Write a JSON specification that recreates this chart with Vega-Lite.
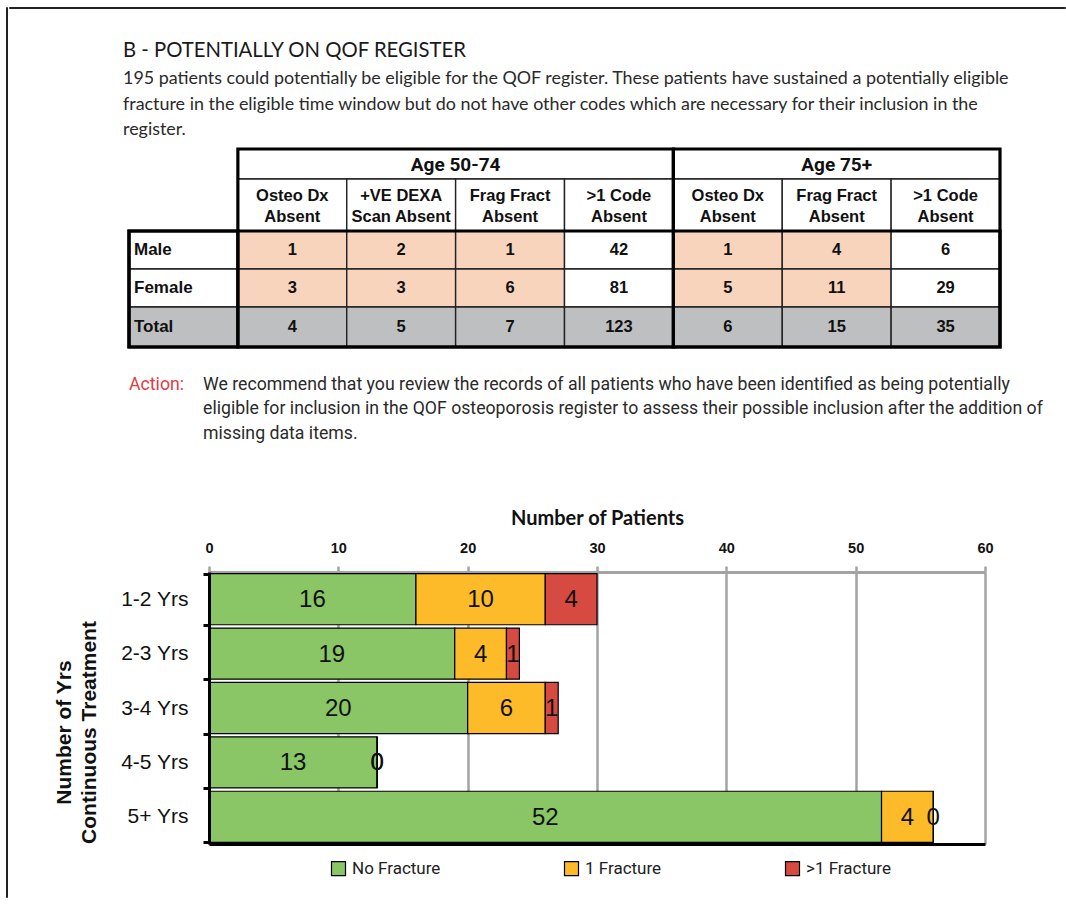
{
 "$schema": "https://vega.github.io/schema/vega-lite/v6.json",
 "background": "white",
 "padding": {"left": 5, "top": 6, "right": 0, "bottom": 0},
 "config": {"view": {"stroke": null}, "font": "Liberation Sans"},
 "datasets": {
  "header": [
   {"line": 0, "kind": "heading", "text": "B - POTENTIALLY ON QOF REGISTER"},
   {"line": 1, "kind": "body", "text": "195 patients could potentially be eligible for the QOF register.  These patients have sustained a potentially eligible"},
   {"line": 2, "kind": "body", "text": "fracture in the eligible time window but do not have other codes which are necessary for their inclusion in the"},
   {"line": 3, "kind": "body", "text": "register."}
  ],
  "table": [
   {"c0": 1, "c1": 5, "r0": 0, "r1": 1, "cx": 3, "cy": 0.5, "level": "age", "kind": "head", "text": "Age 50-74"},
   {"c0": 5, "c1": 8, "r0": 0, "r1": 1, "cx": 6.5, "cy": 0.5, "level": "age", "kind": "head", "text": "Age 75+"},
   {"c0": 1, "c1": 2, "r0": 1, "r1": 2, "cx": 1.5, "cy": 1.5, "level": "sub", "kind": "head", "text": "Osteo Dx\nAbsent"},
   {"c0": 2, "c1": 3, "r0": 1, "r1": 2, "cx": 2.5, "cy": 1.5, "level": "sub", "kind": "head", "text": "+VE DEXA\nScan Absent"},
   {"c0": 3, "c1": 4, "r0": 1, "r1": 2, "cx": 3.5, "cy": 1.5, "level": "sub", "kind": "head", "text": "Frag Fract\nAbsent"},
   {"c0": 4, "c1": 5, "r0": 1, "r1": 2, "cx": 4.5, "cy": 1.5, "level": "sub", "kind": "head", "text": ">1 Code\nAbsent"},
   {"c0": 5, "c1": 6, "r0": 1, "r1": 2, "cx": 5.5, "cy": 1.5, "level": "sub", "kind": "head", "text": "Osteo Dx\nAbsent"},
   {"c0": 6, "c1": 7, "r0": 1, "r1": 2, "cx": 6.5, "cy": 1.5, "level": "sub", "kind": "head", "text": "Frag Fract\nAbsent"},
   {"c0": 7, "c1": 8, "r0": 1, "r1": 2, "cx": 7.5, "cy": 1.5, "level": "sub", "kind": "head", "text": ">1 Code\nAbsent"},
   {"c0": 0, "c1": 1, "r0": 2, "r1": 3, "cx": 0.5, "cy": 2.5, "level": "row", "kind": "plain", "text": "Male"},
   {"c0": 0, "c1": 1, "r0": 3, "r1": 4, "cx": 0.5, "cy": 3.5, "level": "row", "kind": "plain", "text": "Female"},
   {"c0": 0, "c1": 1, "r0": 4, "r1": 5, "cx": 0.5, "cy": 4.5, "level": "row", "kind": "total", "text": "Total"},
   {"c0": 1, "c1": 2, "r0": 2, "r1": 3, "cx": 1.5, "cy": 2.5, "level": "val", "kind": "flag", "text": "1"},
   {"c0": 2, "c1": 3, "r0": 2, "r1": 3, "cx": 2.5, "cy": 2.5, "level": "val", "kind": "flag", "text": "2"},
   {"c0": 3, "c1": 4, "r0": 2, "r1": 3, "cx": 3.5, "cy": 2.5, "level": "val", "kind": "flag", "text": "1"},
   {"c0": 4, "c1": 5, "r0": 2, "r1": 3, "cx": 4.5, "cy": 2.5, "level": "val", "kind": "plain", "text": "42"},
   {"c0": 5, "c1": 6, "r0": 2, "r1": 3, "cx": 5.5, "cy": 2.5, "level": "val", "kind": "flag", "text": "1"},
   {"c0": 6, "c1": 7, "r0": 2, "r1": 3, "cx": 6.5, "cy": 2.5, "level": "val", "kind": "flag", "text": "4"},
   {"c0": 7, "c1": 8, "r0": 2, "r1": 3, "cx": 7.5, "cy": 2.5, "level": "val", "kind": "plain", "text": "6"},
   {"c0": 1, "c1": 2, "r0": 3, "r1": 4, "cx": 1.5, "cy": 3.5, "level": "val", "kind": "flag", "text": "3"},
   {"c0": 2, "c1": 3, "r0": 3, "r1": 4, "cx": 2.5, "cy": 3.5, "level": "val", "kind": "flag", "text": "3"},
   {"c0": 3, "c1": 4, "r0": 3, "r1": 4, "cx": 3.5, "cy": 3.5, "level": "val", "kind": "flag", "text": "6"},
   {"c0": 4, "c1": 5, "r0": 3, "r1": 4, "cx": 4.5, "cy": 3.5, "level": "val", "kind": "plain", "text": "81"},
   {"c0": 5, "c1": 6, "r0": 3, "r1": 4, "cx": 5.5, "cy": 3.5, "level": "val", "kind": "flag", "text": "5"},
   {"c0": 6, "c1": 7, "r0": 3, "r1": 4, "cx": 6.5, "cy": 3.5, "level": "val", "kind": "flag", "text": "11"},
   {"c0": 7, "c1": 8, "r0": 3, "r1": 4, "cx": 7.5, "cy": 3.5, "level": "val", "kind": "plain", "text": "29"},
   {"c0": 1, "c1": 2, "r0": 4, "r1": 5, "cx": 1.5, "cy": 4.5, "level": "val", "kind": "total", "text": "4"},
   {"c0": 2, "c1": 3, "r0": 4, "r1": 5, "cx": 2.5, "cy": 4.5, "level": "val", "kind": "total", "text": "5"},
   {"c0": 3, "c1": 4, "r0": 4, "r1": 5, "cx": 3.5, "cy": 4.5, "level": "val", "kind": "total", "text": "7"},
   {"c0": 4, "c1": 5, "r0": 4, "r1": 5, "cx": 4.5, "cy": 4.5, "level": "val", "kind": "total", "text": "123"},
   {"c0": 5, "c1": 6, "r0": 4, "r1": 5, "cx": 5.5, "cy": 4.5, "level": "val", "kind": "total", "text": "6"},
   {"c0": 6, "c1": 7, "r0": 4, "r1": 5, "cx": 6.5, "cy": 4.5, "level": "val", "kind": "total", "text": "15"},
   {"c0": 7, "c1": 8, "r0": 4, "r1": 5, "cx": 7.5, "cy": 4.5, "level": "val", "kind": "total", "text": "35"}
  ],
  "blocks": [
   {"c0": 1, "c1": 5, "r0": 0, "r1": 5},
   {"c0": 5, "c1": 8, "r0": 0, "r1": 5},
   {"c0": 0, "c1": 1, "r0": 2, "r1": 5},
   {"c0": 0, "c1": 8, "r0": 2, "r1": 5}
  ],
  "actionLabel": [{"line": 0, "text": "Action:"}],
  "action": [
   {"line": 0, "text": "We recommend that you review the records of all patients who have been identified as being potentially"},
   {"line": 1, "text": "eligible for inclusion in the QOF osteoporosis register to assess their possible inclusion after the addition of"},
   {"line": 2, "text": "missing data items."}
  ],
  "bars": [
   {"period": "1-2 Yrs", "fracture": "No Fracture", "rank": 1, "count": 16},
   {"period": "1-2 Yrs", "fracture": "1 Fracture", "rank": 2, "count": 10},
   {"period": "1-2 Yrs", "fracture": ">1 Fracture", "rank": 3, "count": 4},
   {"period": "2-3 Yrs", "fracture": "No Fracture", "rank": 1, "count": 19},
   {"period": "2-3 Yrs", "fracture": "1 Fracture", "rank": 2, "count": 4},
   {"period": "2-3 Yrs", "fracture": ">1 Fracture", "rank": 3, "count": 1},
   {"period": "3-4 Yrs", "fracture": "No Fracture", "rank": 1, "count": 20},
   {"period": "3-4 Yrs", "fracture": "1 Fracture", "rank": 2, "count": 6},
   {"period": "3-4 Yrs", "fracture": ">1 Fracture", "rank": 3, "count": 1},
   {"period": "4-5 Yrs", "fracture": "No Fracture", "rank": 1, "count": 13},
   {"period": "4-5 Yrs", "fracture": "1 Fracture", "rank": 2, "count": 0},
   {"period": "4-5 Yrs", "fracture": ">1 Fracture", "rank": 3, "count": 0},
   {"period": "5+ Yrs", "fracture": "No Fracture", "rank": 1, "count": 52},
   {"period": "5+ Yrs", "fracture": "1 Fracture", "rank": 2, "count": 4},
   {"period": "5+ Yrs", "fracture": ">1 Fracture", "rank": 3, "count": 0}
  ]
 },
 "spacing": 0,
 "hconcat": [
  {"width": 1, "height": 890, "view": {"stroke": "#222", "strokeWidth": 1}, "data": {"values": []}, "mark": "point"},
  {"spacing": 0, "vconcat": [
   {"width": 1056, "height": 1, "view": {"stroke": "#222", "strokeWidth": 1}, "data": {"values": []}, "mark": "point"},
   {"bounds": "flush", "spacing": 0, "hconcat": [
    {"width": 114, "height": 1, "data": {"values": []}, "mark": "point"},
    {"width": 940, "height": 138, "data": {"name": "header"},
     "encoding": {
      "x": {"datum": 0, "type": "quantitative", "scale": {"domain": [0, 1]}, "axis": null},
      "y": {"field": "line", "type": "quantitative", "scale": {"domain": [0, 3], "range": [49, 125], "zero": false, "nice": false}, "axis": null},
      "text": {"field": "text"}
     },
     "layer": [
      {"transform": [{"filter": "datum.kind == 'heading'"}], "mark": {"type": "text", "align": "left", "baseline": "alphabetic", "font": "Lato", "fontSize": 20.3, "color": "#1a1a1a", "dy": -1}},
      {"transform": [{"filter": "datum.kind == 'body'"}], "mark": {"type": "text", "align": "left", "baseline": "alphabetic", "font": "Lato", "fontSize": 17.9, "color": "#2a2a2a", "dy": 1}}
     ]}
   ]},
   {"bounds": "flush", "spacing": 0, "hconcat": [
    {"width": 120, "height": 1, "data": {"values": []}, "mark": "point"},
    {"width": 871, "height": 198,
     "layer": [
      {"data": {"name": "table"},
       "mark": {"type": "rect", "stroke": "#222", "strokeWidth": 1.4},
       "encoding": {
        "x": {"field": "c0", "type": "quantitative", "scale": {"domain": [0, 8], "nice": false, "zero": false}, "axis": null},
        "x2": {"field": "c1"},
        "y": {"field": "r0", "type": "quantitative", "scale": {"domain": [0, 1, 2, 3, 4, 5], "range": [0, 30, 82, 120, 158, 198], "nice": false, "zero": false}, "axis": null},
        "y2": {"field": "r1"},
        "fill": {"field": "kind", "type": "nominal", "scale": {"domain": ["head", "flag", "plain", "total"], "range": ["#ffffff", "#F8D4BD", "#ffffff", "#BEBFC1"]}, "legend": null}
       }},
      {"data": {"name": "table"},
       "transform": [{"filter": "datum.level == 'age'"}],
       "mark": {"type": "text", "font": "Roboto", "fontWeight": "bold", "fontSize": 19, "baseline": "middle", "align": "center", "color": "#111", "dy": 1},
       "encoding": {"x": {"field": "cx", "type": "quantitative"}, "y": {"field": "cy", "type": "quantitative"}, "text": {"field": "text"}}},
      {"data": {"name": "table"},
       "transform": [{"filter": "datum.level == 'sub'"}],
       "mark": {"type": "text", "font": "Liberation Sans", "fontWeight": "bold", "fontSize": 16.5, "baseline": "middle", "align": "center", "color": "#111", "lineBreak": "\n", "lineHeight": 20.5, "dy": -9},
       "encoding": {"x": {"field": "cx", "type": "quantitative"}, "y": {"field": "cy", "type": "quantitative"}, "text": {"field": "text"}}},
      {"data": {"name": "table"},
       "transform": [{"filter": "datum.level == 'row'"}],
       "mark": {"type": "text", "font": "Liberation Sans", "fontWeight": "bold", "fontSize": 17, "baseline": "middle", "align": "left", "dx": 5, "color": "#111"},
       "encoding": {"x": {"field": "c0", "type": "quantitative"}, "y": {"field": "cy", "type": "quantitative"}, "text": {"field": "text"}}},
      {"data": {"name": "table"},
       "transform": [{"filter": "datum.level == 'val'"}],
       "mark": {"type": "text", "font": "Liberation Sans", "fontWeight": "bold", "fontSize": 16.5, "baseline": "middle", "align": "center", "color": "#111"},
       "encoding": {"x": {"field": "cx", "type": "quantitative"}, "y": {"field": "cy", "type": "quantitative"}, "text": {"field": "text"}}},
      {"data": {"name": "blocks"},
       "mark": {"type": "rect", "filled": false, "stroke": "#000", "strokeWidth": 3.2},
       "encoding": {"x": {"field": "c0", "type": "quantitative"}, "x2": {"field": "c1"}, "y": {"field": "r0", "type": "quantitative"}, "y2": {"field": "r1"}}}
     ]}
   ]},
   {"bounds": "flush", "spacing": 0, "hconcat": [
    {"width": 120, "height": 1, "data": {"values": []}, "mark": "point"},
    {"width": 74, "height": 159, "data": {"name": "actionLabel"},
     "mark": {"type": "text", "align": "left", "baseline": "alphabetic", "font": "Roboto", "fontSize": 17.7, "color": "#E23B3F"},
     "encoding": {
      "x": {"datum": 0, "type": "quantitative", "scale": {"domain": [0, 1]}, "axis": null},
      "y": {"field": "line", "type": "quantitative", "scale": {"domain": [0, 2], "range": [40.5, 90], "zero": false, "nice": false}, "axis": null},
      "text": {"field": "text"}
     }},
    {"width": 855, "height": 159, "data": {"name": "action"},
     "mark": {"type": "text", "align": "left", "baseline": "alphabetic", "font": "Roboto", "fontSize": 17.7, "color": "#2a2a2a"},
     "encoding": {
      "x": {"datum": 0, "type": "quantitative", "scale": {"domain": [0, 1]}, "axis": null},
      "y": {"field": "line", "type": "quantitative", "scale": {"domain": [0, 2], "range": [40.5, 90], "zero": false, "nice": false}, "axis": null},
      "text": {"field": "text"}
     }}
   ]},
   {"bounds": "flush", "spacing": 0, "hconcat": [
    {"width": 200, "height": 1, "data": {"values": []}, "mark": "point"},
    {"width": 776, "height": 272, "data": {"name": "bars"},
     "encoding": {
      "y": {"field": "period", "type": "nominal", "sort": ["1-2 Yrs", "2-3 Yrs", "3-4 Yrs", "4-5 Yrs", "5+ Yrs"],
       "scale": {"paddingInner": 0.06, "paddingOuter": 0.03},
       "title": ["Number of Yrs", "Continuous Treatment"],
       "axis": {"domainColor": "#000", "domainWidth": 3, "tickColor": "#000", "tickWidth": 3, "tickSize": 6, "tickBand": "extent",
        "labelFont": "Liberation Sans", "labelFontSize": 21, "labelColor": "#111", "labelPadding": 15,
        "titleFont": "Liberation Sans", "titleFontSize": 21, "titleFontWeight": "bold", "titleColor": "#111", "titlePadding": 21, "titleLineHeight": 25, "titleY": 160, "zindex": 1}}
     },
     "layer": [
      {"mark": {"type": "bar", "stroke": "#000", "strokeWidth": 1.2},
       "encoding": {
        "x": {"field": "count", "type": "quantitative", "stack": "zero", "scale": {"domain": [0, 60], "nice": false},
         "title": "Number of Patients",
         "axis": {"orient": "top", "values": [0, 10, 20, 30, 40, 50, 60], "labelFlush": false,
          "titleFont": "Lato", "titleFontSize": 20, "titleFontWeight": "bold", "titleColor": "#111", "titlePadding": 12,
          "labelFont": "Liberation Sans", "labelFontSize": 14.5, "labelFontWeight": "bold", "labelColor": "#111", "labelPadding": 11,
          "domainColor": "#A3A3A5", "domainWidth": 3, "tickColor": "#A3A3A5", "tickWidth": 2.5, "tickSize": 6,
          "grid": true, "gridColor": "#A3A3A5", "gridWidth": 2.5}},
        "color": {"field": "fracture", "type": "nominal",
         "scale": {"domain": ["No Fracture", "1 Fracture", ">1 Fracture"], "range": ["#8AC665", "#FDBB2A", "#D74A41"]},
         "legend": {"orient": "none", "legendX": 324, "legendY": 853, "direction": "horizontal", "title": null,
          "symbolType": "square", "symbolSize": 196, "symbolStrokeColor": "#000", "symbolStrokeWidth": 1.2, "symbolOpacity": 1,
          "labelFont": "Roboto", "labelFontSize": 17, "labelColor": "#222", "labelOffset": 5, "columnPadding": 121}},
        "order": {"field": "rank", "type": "quantitative"}
       }},
      {"mark": {"type": "text", "font": "Liberation Sans", "fontSize": 24, "color": "#111", "baseline": "middle", "align": "center", "dy": 1},
       "encoding": {
        "x": {"field": "count", "type": "quantitative", "stack": "zero", "bandPosition": 0.5,
         "axis": {"orient": "bottom", "labels": false, "ticks": false, "grid": false, "title": null, "domainColor": "#000", "domainWidth": 3, "zindex": 1}},
        "detail": {"field": "fracture", "type": "nominal"},
        "order": {"field": "rank", "type": "quantitative"},
        "text": {"field": "count", "type": "quantitative"}
       }}
     ],
     "resolve": {"axis": {"x": "independent"}}}
   ]}
  ]}
 ]
}
